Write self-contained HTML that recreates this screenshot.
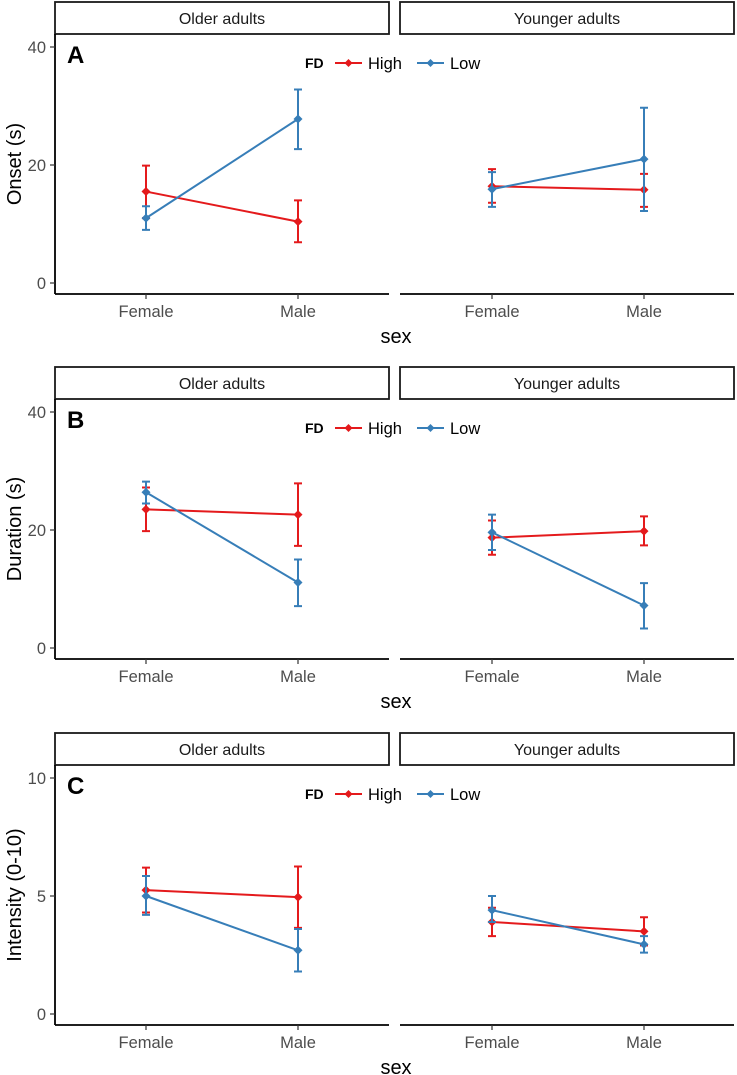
<!DOCTYPE html>
<html><head><meta charset="utf-8"><style>
html,body{margin:0;padding:0;background:#fff}
svg{display:block;font-family:"Liberation Sans",Arial,sans-serif}
</style></head><body>
<svg id="c" width="737" height="1075" viewBox="0 0 737 1075"></svg>
<script>
const categories=["Female","Male"];
const facets=["Older adults","Younger adults"];
const panelLabels=["A","B","C"];
const yTitles=["Onset (s)","Duration (s)","Intensity (0-10)"];
const yTicks=[[0,20,40],[0,20,40],[0,5,10]];
const yMax=[40,40,10];
// [panel][facet] -> [female, male]
const highMean=[[[15.5,10.4],[16.4,15.8]],[[23.5,22.6],[18.7,19.8]],[[5.25,4.95],[3.9,3.5]]];
const highLo=[[[11,6.9],[13.6,12.9]],[[19.8,17.3],[15.8,17.4]],[[4.3,3.65],[3.3,2.9]]];
const highHi=[[[19.9,14],[19.3,18.5]],[[27.2,27.9],[21.6,22.3]],[[6.2,6.25],[4.5,4.1]]];
const lowMean=[[[11,27.8],[15.9,21]],[[26.4,11.1],[19.6,7.2]],[[5.0,2.7],[4.4,2.95]]];
const lowLo=[[[9,22.7],[12.9,12.2]],[[24.5,7.1],[16.6,3.3]],[[4.2,1.8],[3.9,2.6]]];
const lowHi=[[[13,32.8],[18.8,29.7]],[[28.2,15],[22.6,11]],[[5.85,3.6],[5.0,3.3]]];
const RED="#e41a1c",BLUE="#377eb8";
const svg=document.getElementById('c');
const NS="http://www.w3.org/2000/svg";
function mk(t,a,txt){const e=document.createElementNS(NS,t);for(const k in a)e.setAttribute(k,a[k]);if(txt!=null)e.textContent=txt;svg.appendChild(e);return e;}
const offsets=[0,365,731];
const facetX0=[55,400],facetW=334;
function xs(f,i){return (f===0?146:492)+i*152;}
for(let p=0;p<3;p++){
  const o=offsets[p];
  const ys=v=>o+283-v/yMax[p]*236;
  for(let f=0;f<2;f++){
    const x0=facetX0[f];
    let e=mk('rect',{x:x0,y:o+2,width:facetW,height:32,fill:'#fff',stroke:'#1a1a1a','stroke-width':1.8});
    
    e=mk('text',{x:x0+facetW/2,y:o+24,'text-anchor':'middle','font-size':16,fill:'#1a1a1a'},facets[f]);
    
    e=mk('line',{x1:x0,x2:x0+facetW,y1:o+294,y2:o+294,stroke:'#000','stroke-width':1.8});
    
    for(let i=0;i<2;i++){
      const x=xs(f,i);
      mk('line',{x1:x,x2:x,y1:o+294,y2:o+299,stroke:'#333','stroke-width':1.2});
      e=mk('text',{x:x,y:o+317,'text-anchor':'middle','font-size':16.5,fill:'#4d4d4d'},categories[i]);
      
    }
    const series=[[highMean,highLo,highHi,RED,'high'],[lowMean,lowLo,lowHi,BLUE,'low']];
    for(const [m,lo,hi,col,nm] of series){
      for(let i=0;i<2;i++){
        const x=xs(f,i);
        e=mk('path',{d:`M${x},${ys(lo[p][f][i])}V${ys(hi[p][f][i])}M${x-4},${ys(lo[p][f][i])}h8M${x-4},${ys(hi[p][f][i])}h8`,stroke:col,'stroke-width':2,fill:'none'});
        
      }
      e=mk('line',{x1:xs(f,0),y1:ys(m[p][f][0]),x2:xs(f,1),y2:ys(m[p][f][1]),stroke:col,'stroke-width':2});
      
      for(let i=0;i<2;i++){
        const x=xs(f,i),y=ys(m[p][f][i]);
        e=mk('path',{d:`M${x},${y-4.5}L${x+4.5},${y}L${x},${y+4.5}L${x-4.5},${y}Z`,fill:col});
        
      }
    }
  }
  let e=mk('line',{x1:55,x2:55,y1:o+34,y2:o+294,stroke:'#000','stroke-width':1.8});
  
  for(const t of yTicks[p]){
    const y=ys(t);
    mk('line',{x1:50,x2:55,y1:y,y2:y,stroke:'#333','stroke-width':1.2});
    e=mk('text',{x:46,y:y+6,'text-anchor':'end','font-size':16.5,fill:'#4d4d4d'},t);
    
  }
  e=mk('text',{x:0,y:0,transform:`translate(21,${o+164}) rotate(-90)`,'text-anchor':'middle','font-size':20,fill:'#000'},yTitles[p]);
  
  e=mk('text',{x:396,y:o+343,'text-anchor':'middle','font-size':20,fill:'#000'},'sex');
  
  e=mk('text',{x:67,y:o+63,'font-size':24,'font-weight':'bold',fill:'#000'},panelLabels[p]);
  
  // legend
  e=mk('text',{x:305,y:o+68,'font-size':14,'font-weight':'bold',fill:'#000'},'FD');
  
  const leg=[[335,'High',RED],[417,'Low',BLUE]];
  for(const [lx,lab,col] of leg){
    mk('line',{x1:lx,x2:lx+27,y1:o+63,y2:o+63,stroke:col,'stroke-width':2});
    const cx=lx+13.5;
    mk('path',{d:`M${cx},${o+59}L${cx+4},${o+63}L${cx},${o+67}L${cx-4},${o+63}Z`,fill:col});
    e=mk('text',{x:lx+33,y:o+69,'font-size':16.5,fill:'#000'},lab);
    
  }
}
</script>
</body></html>
